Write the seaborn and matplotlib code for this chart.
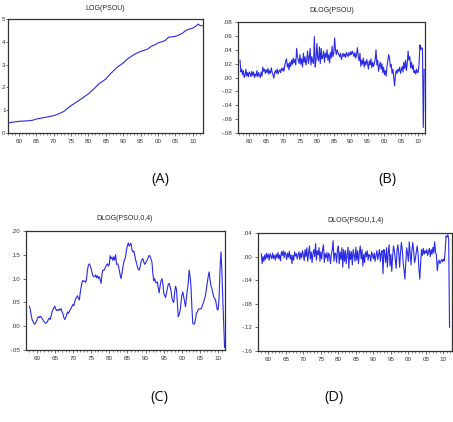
import numpy as np
import pandas as pd
import matplotlib
matplotlib.use("Agg")
import matplotlib.pyplot as plt
import seaborn as sns
from matplotlib.ticker import FixedLocator, FuncFormatter, MultipleLocator

# ---------------- data ----------------
years_a = list(range(1957, 2013)) + [2011.5, 2012.75]
log_psou = [0.44, 0.47, 0.49, 0.51, 0.52, 0.53, 0.54, 0.56, 0.61, 0.64, 0.67, 0.70, 0.73,
            0.76, 0.81, 0.88, 0.95, 1.08, 1.20, 1.30, 1.40, 1.50, 1.61, 1.72, 1.86, 2.00,
            2.16, 2.26, 2.37, 2.55, 2.70, 2.85, 2.97, 3.07, 3.22, 3.33, 3.43, 3.51, 3.58,
            3.63, 3.68, 3.80, 3.86, 3.95, 4.00, 4.05, 4.20, 4.22, 4.24, 4.30, 4.38, 4.50,
            4.56, 4.60, 4.70, 4.72, 4.78, 4.70]
# sort the A series by time
_pairs = sorted(zip(years_a, log_psou))
years_a = [p[0] for p in _pairs]
log_psou = [p[1] for p in _pairs]

dlog_start = 1957.25
dlog_psou = [
    0.025, 0.008, 0.012,
    0.004, 0.010, 0.000, 0.003,
    0.012, 0.002, 0.007, 0.001,
    0.008, 0.006, 0.001, 0.009,
    0.003, 0.008, 0.000, 0.005,
    0.002, 0.010, 0.001, 0.007,
    0.003, 0.000, 0.008, 0.002,
    0.015, 0.009, 0.012, 0.006,
    0.011, 0.007, 0.013, 0.005,
    0.010, 0.006, 0.014, 0.008,
    0.004, -0.001, 0.007, 0.010,
    0.006, 0.012, 0.005, 0.009,
    0.011, 0.007, 0.013, 0.010,
    0.014, 0.009, 0.018, 0.023,
    0.027, 0.015, 0.020, 0.011,
    0.022, 0.016, 0.025, 0.019,
    0.028, 0.021, 0.026, 0.018,
    0.042, 0.030, 0.025, 0.020,
    0.033, 0.019, 0.027, 0.015,
    0.035, 0.022, 0.030, 0.018,
    0.025, 0.038, 0.020, 0.028,
    0.042, 0.018, 0.030, 0.023,
    0.020, 0.059, 0.015, 0.025,
    0.049, 0.028, 0.024, 0.044,
    0.020, 0.042, 0.027, 0.030,
    0.038, 0.022, 0.035, 0.029,
    0.040, 0.025, 0.033, 0.021,
    0.036, 0.028, 0.045, 0.030,
    0.035, 0.057, 0.040, 0.033,
    0.040, 0.036, 0.033, 0.030,
    0.035, 0.026, 0.031, 0.035,
    0.030, 0.034, 0.029, 0.036,
    0.033, 0.030, 0.036, 0.032,
    0.037, 0.033, 0.038, 0.035,
    0.030, 0.036, 0.028, 0.033,
    0.043, 0.030, 0.024, 0.035,
    0.016, 0.025, 0.019, 0.028,
    0.015, 0.023, 0.018, 0.026,
    0.020, 0.012, 0.024, 0.018,
    0.027, 0.014, 0.022, 0.016,
    0.020, 0.026, 0.040, 0.018,
    0.025, 0.009, 0.017, 0.022,
    0.012, 0.020, 0.007, 0.015,
    0.004, 0.010, 0.002, 0.016,
    0.025, 0.033, 0.028, 0.015,
    0.019, 0.006, 0.012, 0.000,
    -0.012, 0.004, 0.010, 0.006,
    0.012, 0.009, 0.015, 0.006,
    0.011, 0.016, 0.008, 0.022,
    0.013, 0.025, 0.010, 0.020,
    0.038, 0.025, 0.030, 0.014,
    0.022, 0.012, 0.018, 0.007,
    0.010, 0.005, 0.012, 0.007,
    0.008, 0.020, 0.047, 0.040,
    0.043, 0.042, -0.072, 0.012,
]

dlog04_start = 1958.0
dlog_psou_0_4 = [
    0.042, 0.035, 0.023, 0.014,
    0.010, 0.006, 0.004, 0.008,
    0.011, 0.017, 0.020, 0.018,
    0.021, 0.019, 0.016, 0.013,
    0.010, 0.008, 0.006, 0.008,
    0.010, 0.015, 0.017, 0.014,
    0.022, 0.030, 0.035, 0.039,
    0.042, 0.036, 0.033, 0.035,
    0.033, 0.036, 0.034, 0.037,
    0.030, 0.026, 0.018, 0.014,
    0.018, 0.024, 0.030, 0.027,
    0.031, 0.035, 0.038, 0.042,
    0.046, 0.043, 0.052, 0.058,
    0.061, 0.064, 0.058, 0.055,
    0.070, 0.082, 0.093, 0.096,
    0.094, 0.095, 0.092, 0.100,
    0.118, 0.128, 0.131, 0.127,
    0.121, 0.112, 0.106, 0.104,
    0.104, 0.108, 0.102, 0.106,
    0.100, 0.104, 0.098, 0.090,
    0.110, 0.118, 0.117, 0.120,
    0.125, 0.129, 0.131, 0.126,
    0.130, 0.148, 0.142, 0.145,
    0.138, 0.146, 0.139, 0.150,
    0.130, 0.131, 0.128, 0.118,
    0.108, 0.100, 0.112, 0.125,
    0.135, 0.140, 0.146, 0.160,
    0.170, 0.175, 0.168, 0.172,
    0.174, 0.160, 0.156, 0.158,
    0.150, 0.140, 0.132, 0.125,
    0.119, 0.118, 0.125, 0.135,
    0.140, 0.142, 0.135, 0.130,
    0.133, 0.136, 0.140, 0.145,
    0.149, 0.146, 0.141, 0.135,
    0.111, 0.095, 0.100, 0.092,
    0.091, 0.093, 0.080, 0.070,
    0.085, 0.095, 0.100, 0.090,
    0.069, 0.065, 0.060, 0.070,
    0.079, 0.088, 0.090, 0.082,
    0.075, 0.060, 0.053, 0.050,
    0.070, 0.084, 0.078, 0.050,
    0.020, 0.025, 0.032, 0.050,
    0.065, 0.072, 0.062, 0.052,
    0.041, 0.060, 0.076, 0.090,
    0.118, 0.105, 0.083, 0.040,
    0.006, 0.004, 0.005, 0.015,
    0.027, 0.030, 0.035, 0.036,
    0.037, 0.036, 0.040, 0.046,
    0.051, 0.058, 0.065, 0.078,
    0.090, 0.105, 0.114, 0.097,
    0.085, 0.079, 0.070, 0.062,
    0.058, 0.056, 0.045, 0.034,
    0.036, 0.060, 0.120, 0.156,
    0.120, 0.060, 0.010, -0.045,
]

dlog14_start = 1958.0
dlog_psou_1_4 = [
    0.005, -0.012, 0.000, -0.008,
    0.003, -0.005, 0.006, -0.002,
    0.004, -0.006, 0.005, 0.001,
    -0.004, 0.006, -0.003, 0.002,
    -0.006, 0.004, -0.002, 0.007,
    -0.004, 0.003, -0.007, 0.008,
    0.002, 0.010, -0.002, 0.008,
    0.004, -0.005, 0.006, -0.001,
    0.009, -0.004, 0.003, -0.012,
    0.002, -0.006, 0.008, 0.001,
    0.005, -0.004, 0.003, 0.008,
    -0.005, 0.006, -0.002, 0.010,
    0.003, -0.007, 0.012, 0.000,
    0.015, -0.008, 0.006, 0.018,
    -0.004, 0.008, -0.010, 0.005,
    0.012, 0.000, 0.022, -0.006,
    0.010, 0.003, 0.015, -0.008,
    0.008, -0.004, 0.012, 0.020,
    -0.010, 0.005, -0.002, 0.007,
    -0.008, 0.006, 0.002, -0.012,
    0.004, 0.010, 0.027, -0.008,
    0.006, 0.005, -0.010, 0.012,
    0.018, -0.012, 0.008, -0.005,
    0.015, -0.018, 0.012, -0.008,
    0.010, -0.012, 0.004, 0.016,
    -0.020, 0.010, -0.005, 0.008,
    -0.014, 0.012, 0.002, -0.008,
    0.016, -0.006, 0.010, -0.012,
    0.006, 0.018, -0.004, 0.012,
    -0.016, 0.004, -0.010, 0.008,
    0.000, 0.010, -0.006, 0.004,
    0.002, -0.008, 0.008, 0.003,
    -0.004, 0.006, -0.008, 0.002,
    0.010, -0.005, 0.004, 0.012,
    -0.008, 0.006, 0.010, -0.029,
    0.012, 0.004, -0.010, 0.015,
    -0.018, 0.008, 0.020, -0.016,
    0.004, -0.025, 0.000, 0.018,
    0.010, -0.006, -0.020, 0.010,
    0.020, 0.005, -0.018, 0.008,
    0.024, 0.012, -0.010, -0.022,
    -0.038, -0.012, 0.015, 0.005,
    -0.008, 0.025, 0.006, -0.014,
    0.010, 0.024, 0.010, -0.010,
    -0.004, 0.008, 0.018, 0.006,
    -0.020, -0.038, -0.010, 0.012,
    0.002, 0.014, 0.004, 0.010,
    0.006, 0.012, 0.002, 0.008,
    0.014, 0.000, 0.012, 0.004,
    0.016, 0.006, 0.025, 0.008,
    0.002, -0.024, -0.010, -0.006,
    -0.012, -0.008, -0.005, -0.009,
    -0.004, -0.007, 0.010, 0.035,
    0.033, 0.037, 0.030, -0.120,
]

titles = ["LOG(PSOU)", "DLOG(PSOU)", "DLOG(PSOU,0,4)", "DLOG(PSOU,1,4)"]
panel_labels = ["(A)", "(B)", "(C)", "(D)"]
year_ticks = [1960, 1965, 1970, 1975, 1980, 1985, 1990, 1995, 2000, 2005, 2010]


def quarterly(start, vals):
    return [start + 0.25 * i for i in range(len(vals))]


dfs = [
    pd.DataFrame({"t": years_a, "v": log_psou}),
    pd.DataFrame({"t": quarterly(dlog_start, dlog_psou), "v": dlog_psou}),
    pd.DataFrame({"t": quarterly(dlog04_start, dlog_psou_0_4), "v": dlog_psou_0_4}),
    pd.DataFrame({"t": quarterly(dlog14_start, dlog_psou_1_4), "v": dlog_psou_1_4}),
]

# ---------------- layout ----------------
sns.set_style("white")
plt.rcParams["font.family"] = ["Liberation Sans", "DejaVu Sans"]

W, H = 453, 422
fig = plt.figure(figsize=(W / 100, H / 100), dpi=100)

# (left, right, top, bottom) in pixels
boxes = [(8, 203, 19, 133), (238, 425, 22, 133), (26, 225, 231, 350), (258, 452, 233, 351)]
xlims = [(1956.9, 2012.9), (1956.65, 2012.0), (1957.07, 2011.87), (1957.06, 2012.45)]
ylims = [(0, 5), (-0.08, 0.08), (-0.05, 0.20), (-0.16, 0.04)]
yticks = [
    [0, 1, 2, 3, 4, 5],
    [-0.08, -0.06, -0.04, -0.02, 0.0, 0.02, 0.04, 0.06, 0.08],
    [-0.05, 0.0, 0.05, 0.10, 0.15, 0.20],
    [-0.16, -0.12, -0.08, -0.04, 0.0, 0.04],
]
title_pos = [(105, 8), (332, 10), (125, 218), (356, 220)]
label_pos = [(160, 180), (387, 180), (159, 398), (334, 398)]


def yfmt_int(v, pos):
    return f"{int(round(v))}"


def yfmt_dec(v, pos):
    s = f"{v:.2f}"
    s = s.replace("0.", ".", 1) if s.startswith("0.") else s
    s = s.replace("-0.", "-.", 1)
    return s


def xfmt(v, pos):
    return f"{int(round(v)) % 100:02d}"


for i, (df, box) in enumerate(zip(dfs, boxes)):
    l, r, t, b = box
    ax = fig.add_axes([l / W, 1 - b / H, (r - l) / W, (b - t) / H])
    sns.lineplot(data=df, x="t", y="v", ax=ax, color="#2a2ae6", linewidth=0.8)
    ax.set_xlim(*xlims[i])
    ax.set_ylim(*ylims[i])
    ax.set_xlabel("")
    ax.set_ylabel("")
    ax.xaxis.set_major_locator(FixedLocator(year_ticks))
    ax.xaxis.set_minor_locator(MultipleLocator(1))
    ax.xaxis.set_major_formatter(FuncFormatter(xfmt))
    ax.yaxis.set_major_locator(FixedLocator(yticks[i]))
    ax.yaxis.set_major_formatter(FuncFormatter(yfmt_int if i == 0 else yfmt_dec))
    ax.tick_params(axis="both", which="major", labelsize=4.5, length=2, width=0.5,
                   pad=2, colors="#333333", direction="out", bottom=True, left=True)
    if i == 0:
        ax.tick_params(axis="y", which="major", length=1.2, pad=0.6)
    ax.tick_params(axis="x", which="minor", length=1.2, width=0.4, bottom=True, colors="#333333")
    for s in ax.spines.values():
        s.set_visible(True)
        s.set_color("#333333")
        s.set_linewidth(0.9)
    tx, ty = title_pos[i]
    fig.text(tx / W, 1 - ty / H, titles[i], ha="center", va="center", fontsize=5, color="#222222")
    lx, ly = label_pos[i]
    fig.text(lx / W, 1 - ly / H, panel_labels[i], ha="center", va="center", fontsize=10.5,
             color="#111111", family=["Open Sans", "DejaVu Sans"])

fig.savefig("out.png", dpi=100)
